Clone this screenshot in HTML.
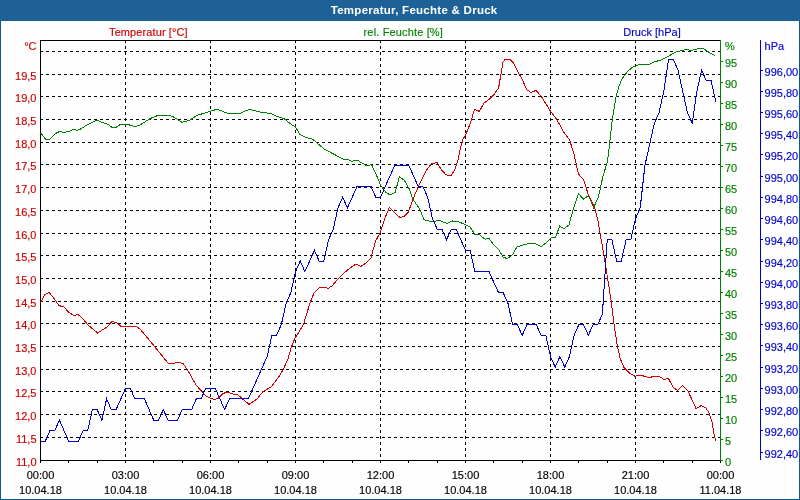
<!DOCTYPE html>
<html lang="de"><head><meta charset="utf-8"><title>Temperatur, Feuchte &amp; Druck</title>
<style>html,body{margin:0;padding:0;background:#fdfefd;overflow:hidden}svg{display:block}text{font-family:"Liberation Sans",sans-serif;font-size:11px;stroke-width:.15px;paint-order:stroke}</style></head><body>
<svg width="800" height="500" viewBox="0 0 800 500">
<rect x="0" y="0" width="800" height="500" fill="#fdfefd"/>
<rect x="0" y="0" width="800" height="21" fill="#1e6197"/>
<g shape-rendering="crispEdges" fill="none">
<path d="M0.5 21V499.5H799.5V21" stroke="#0c5996"/>
<path d="M40 437.5H720M40 414.5H720M40 391.5H720M40 369.5H720M40 346.5H720M40 323.5H720M40 301.5H720M40 278.5H720M40 255.5H720M40 233.5H720M40 210.5H720M40 187.5H720M40 164.5H720M40 142.5H720M40 119.5H720M40 96.5H720M40 74.5H720M40 51.5H720M125.5 40V460M210.5 40V460M295.5 40V460M380.5 40V460M465.5 40V460M550.5 40V460M635.5 40V460" stroke="#000" stroke-dasharray="3 3"/>
<path d="M40 40.5H721M40.5 40V461M40 460.5H721" stroke="#000"/>
<path d="M40.5 460V463M68.5 460V463M97.5 460V463M125.5 460V463M153.5 460V463M182.5 460V463M210.5 460V463M238.5 460V463M267.5 460V463M295.5 460V463M323.5 460V463M352.5 460V463M380.5 460V463M408.5 460V463M437.5 460V463M465.5 460V463M493.5 460V463M522.5 460V463M550.5 460V463M578.5 460V463M607.5 460V463M635.5 460V463M663.5 460V463M692.5 460V463M720.5 460V463" stroke="#000"/>
<path d="M720.5 40V461M721 460.5H723M721 439.5H723M721 418.5H723M721 397.5H723M721 376.5H723M721 355.5H723M721 334.5H723M721 313.5H723M721 292.5H723M721 271.5H723M721 250.5H723M721 229.5H723M721 208.5H723M721 187.5H723M721 166.5H723M721 145.5H723M721 124.5H723M721 103.5H723M721 82.5H723M721 61.5H723" stroke="#008000"/>
<path d="M760.5 40V460M761 452.5H763M761 430.5H763M761 409.5H763M761 388.5H763M761 367.5H763M761 345.5H763M761 324.5H763M761 303.5H763M761 282.5H763M761 261.5H763M761 239.5H763M761 218.5H763M761 197.5H763M761 176.5H763M761 154.5H763M761 133.5H763M761 112.5H763M761 91.5H763M761 70.5H763" stroke="#0000cc"/>
<polyline points="40.5,133.0 41.2,133.5 45.6,139.4 49.4,139.4 55.6,133.5 60.0,131.2 63.7,132.5 69.4,131.2 73.1,129.4 77.5,130.4 80.6,129.0 85.0,126.2 96.9,120.0 101.2,122.2 106.9,123.7 111.9,127.2 116.2,127.2 120.6,124.4 127.5,124.4 135.0,126.6 140.0,125.0 150.0,118.6 158.0,115.4 169.0,115.4 173.0,116.6 182.0,122.4 190.0,120.0 197.0,115.4 210.0,111.4 217.0,109.2 228.0,113.4 240.0,113.4 249.0,109.4 260.0,112.0 271.0,113.6 280.0,117.6 284.0,118.6 292.0,125.0 295.6,127.0 300.0,134.4 305.0,137.0 313.0,139.4 324.0,149.0 343.0,159.0 348.0,159.4 352.0,161.4 357.0,160.0 367.0,166.0 371.6,164.6 376.0,174.0 381.0,186.0 386.0,192.4 390.0,195.0 395.0,192.6 399.4,177.0 404.2,180.0 409.0,188.5 413.0,199.5 419.5,208.5 424.0,219.8 433.0,222.0 438.5,220.2 447.0,223.4 452.5,221.0 458.0,221.6 465.0,224.4 470.0,227.0 475.0,234.4 479.0,234.4 485.0,239.2 489.0,238.5 494.0,245.0 499.0,250.0 503.0,257.0 507.0,258.6 512.0,255.4 517.0,247.0 523.0,245.0 531.0,243.2 536.0,244.0 541.0,246.6 546.0,243.0 551.0,238.0 555.6,237.6 559.6,226.0 564.0,228.6 569.0,224.8 573.0,210.0 578.4,193.6 583.6,199.0 588.6,195.6 593.6,207.5 598.4,197.0 603.0,176.0 607.6,161.0 612.4,119.0 616.0,97.0 619.0,86.0 622.0,79.0 627.0,72.0 632.0,67.6 639.0,64.6 649.0,64.4 655.0,61.4 660.0,60.6 668.0,56.4 676.0,52.0 686.0,49.4 691.0,50.4 696.0,49.4 701.0,48.0 704.0,49.0 709.0,52.4 715.0,55.6" stroke="#008000"/>
<polyline points="40.5,303.0 45.0,294.4 49.0,292.4 54.0,298.4 59.0,305.6 64.0,307.0 69.0,312.6 74.0,315.4 78.0,314.4 83.0,319.0 88.0,325.0 97.6,333.0 107.0,327.0 112.0,321.4 117.0,323.0 121.0,326.4 136.0,326.4 140.0,329.0 150.0,341.0 168.0,363.0 172.0,364.0 178.0,362.0 183.0,363.6 187.0,369.0 196.0,385.0 206.0,396.0 211.0,398.4 215.0,399.4 218.0,398.4 223.0,393.6 227.0,392.0 233.0,394.0 238.0,395.0 249.0,404.4 257.0,399.0 263.0,391.6 271.0,387.0 278.0,378.0 283.0,370.0 288.0,359.0 291.0,348.0 295.0,338.0 299.0,332.0 303.6,324.0 310.0,303.0 314.0,293.0 319.0,288.0 323.0,287.0 328.0,288.4 332.0,286.0 338.0,279.0 344.0,273.0 350.0,268.0 356.0,264.0 361.0,266.4 366.0,263.0 371.0,258.0 372.0,254.0 375.6,241.0 380.0,233.0 385.0,218.0 389.4,207.4 395.0,213.0 400.0,217.6 404.0,216.4 408.4,212.0 413.0,199.0 418.4,186.4 426.0,171.0 431.0,164.0 437.0,162.4 441.0,169.2 446.0,174.8 451.0,176.0 455.5,168.0 458.0,160.0 460.0,150.0 463.0,139.4 466.0,134.0 470.0,124.0 474.6,109.4 479.4,111.4 484.0,103.0 489.0,99.4 494.0,94.4 498.6,88.0 500.6,76.0 503.0,62.0 505.0,59.6 510.0,59.6 513.0,62.4 517.0,70.0 522.0,79.0 527.0,90.0 531.0,92.4 536.0,90.4 541.0,96.0 546.0,104.0 551.0,112.0 556.0,118.4 560.0,125.0 564.0,132.5 569.6,140.0 574.0,154.0 578.4,174.0 583.6,179.6 588.6,195.6 591.0,200.0 595.0,209.0 598.0,221.0 600.0,233.0 603.0,250.0 606.0,268.0 608.5,284.0 611.0,300.0 614.0,324.0 617.0,344.0 620.0,358.0 624.0,367.5 629.0,372.6 635.0,376.4 640.0,375.0 649.0,377.6 654.0,376.4 659.0,376.4 664.0,379.4 668.4,378.4 673.0,387.0 677.6,390.6 682.6,385.4 688.0,391.0 696.0,408.4 701.4,405.6 706.0,408.0 709.0,413.0 712.0,422.0 714.0,434.0 715.6,440.6" stroke="#cc0000"/>
<polyline points="40.5,441.4 45.2,441.4 49.9,430.8 54.7,430.8 59.4,420.2 64.1,430.8 68.8,441.4 73.6,441.4 78.3,441.4 83.0,430.8 87.7,430.8 92.4,409.6 97.2,409.6 101.9,420.2 106.6,398.9 111.3,409.6 116.1,409.6 120.8,398.9 125.5,388.3 130.2,388.3 134.9,398.9 139.7,398.9 144.4,398.9 149.1,409.6 153.8,420.2 158.6,420.2 163.3,409.6 168.0,420.2 172.7,420.2 177.4,420.2 182.2,409.6 186.9,409.6 191.6,409.6 196.3,398.9 201.1,398.9 205.8,388.3 210.5,388.3 215.2,388.3 219.9,398.9 224.7,409.6 229.4,398.9 234.1,398.9 238.8,398.9 243.6,398.9 248.3,398.9 253.0,388.3 257.7,377.7 262.4,367.1 267.2,356.5 271.9,335.3 276.6,335.3 281.3,324.7 286.1,303.4 290.8,292.8 295.5,271.6 300.2,261.0 304.9,271.6 309.7,261.0 314.4,250.4 319.1,261.0 323.8,261.0 328.6,239.8 333.3,229.2 338.0,207.9 342.7,197.3 347.4,207.9 352.2,197.3 356.9,186.7 361.6,186.7 366.3,186.7 371.1,186.7 375.8,197.3 380.5,197.3 385.2,186.7 389.9,176.1 394.7,165.5 399.4,165.5 404.1,165.5 408.8,165.5 413.6,176.1 418.3,186.7 423.0,186.7 427.7,197.3 432.4,218.6 437.2,229.2 441.9,229.2 446.6,239.8 451.3,229.2 456.1,229.2 460.8,239.8 465.5,250.4 470.2,250.4 474.9,271.6 479.7,271.6 484.4,271.6 489.1,271.6 493.8,282.2 498.6,292.8 503.3,292.8 508.0,303.4 512.7,324.7 517.4,324.7 522.2,335.3 526.9,324.7 531.6,324.7 536.3,324.7 541.1,335.3 545.8,335.3 550.5,356.5 555.2,367.1 559.9,356.5 564.7,367.1 569.4,356.5 574.1,335.3 578.8,324.7 583.6,324.7 588.3,335.3 593.0,324.7 597.7,324.7 602.4,314.1 607.2,239.8 611.9,239.8 616.6,261.0 621.3,261.0 626.1,239.8 630.8,239.8 635.5,218.6 640.2,207.9 644.9,165.5 649.7,144.3 654.4,123.1 659.1,112.4 663.8,91.2 668.6,59.4 673.3,59.4 678.0,70.0 682.7,91.2 687.4,112.4 692.2,123.1 696.9,91.2 701.6,70.0 706.3,80.6 711.1,80.6 715.8,101.8" stroke="#0000cc"/>
</g>
<text x="414" y="14" text-anchor="middle" fill="#fff" font-weight="bold" textLength="166.5" lengthAdjust="spacing" style="font-size:11.5px">Temperatur, Feuchte &amp; Druck</text>
<text x="148.3" y="36" text-anchor="middle" fill="#cc0000" stroke="#cc0000" textLength="78.5" lengthAdjust="spacing">Temperatur [°C]</text>
<text x="403.2" y="36" text-anchor="middle" fill="#008000" stroke="#008000" textLength="79.3" lengthAdjust="spacing">rel. Feuchte [%]</text>
<text x="652" y="36" text-anchor="middle" fill="#0000cc" stroke="#0000cc">Druck [hPa]</text>
<g fill="#cc0000" stroke="#cc0000" text-anchor="end">
<text x="36.5" y="50">°C</text>
<text x="36.5" y="466">11,0</text>
<text x="36.5" y="443">11,5</text>
<text x="36.5" y="420">12,0</text>
<text x="36.5" y="397">12,5</text>
<text x="36.5" y="375">13,0</text>
<text x="36.5" y="352">13,5</text>
<text x="36.5" y="329">14,0</text>
<text x="36.5" y="307">14,5</text>
<text x="36.5" y="284">15,0</text>
<text x="36.5" y="261">15,5</text>
<text x="36.5" y="239">16,0</text>
<text x="36.5" y="216">16,5</text>
<text x="36.5" y="193">17,0</text>
<text x="36.5" y="170">17,5</text>
<text x="36.5" y="148">18,0</text>
<text x="36.5" y="125">18,5</text>
<text x="36.5" y="102">19,0</text>
<text x="36.5" y="80">19,5</text>
</g>
<g fill="#008000" stroke="#008000">
<text x="725" y="50">%</text>
<text x="725" y="466">0</text>
<text x="725" y="445">5</text>
<text x="725" y="424">10</text>
<text x="725" y="403">15</text>
<text x="725" y="382">20</text>
<text x="725" y="361">25</text>
<text x="725" y="340">30</text>
<text x="725" y="319">35</text>
<text x="725" y="298">40</text>
<text x="725" y="277">45</text>
<text x="725" y="256">50</text>
<text x="725" y="235">55</text>
<text x="725" y="214">60</text>
<text x="725" y="193">65</text>
<text x="725" y="172">70</text>
<text x="725" y="151">75</text>
<text x="725" y="130">80</text>
<text x="725" y="109">85</text>
<text x="725" y="88">90</text>
<text x="725" y="67">95</text>
</g>
<g fill="#0000cc" stroke="#0000cc">
<text x="764.6" y="50">hPa</text>
<text x="764.6" y="458">992,40</text>
<text x="764.6" y="436">992,60</text>
<text x="764.6" y="415">992,80</text>
<text x="764.6" y="394">993,00</text>
<text x="764.6" y="373">993,20</text>
<text x="764.6" y="351">993,40</text>
<text x="764.6" y="330">993,60</text>
<text x="764.6" y="309">993,80</text>
<text x="764.6" y="288">994,00</text>
<text x="764.6" y="267">994,20</text>
<text x="764.6" y="245">994,40</text>
<text x="764.6" y="224">994,60</text>
<text x="764.6" y="203">994,80</text>
<text x="764.6" y="182">995,00</text>
<text x="764.6" y="160">995,20</text>
<text x="764.6" y="139">995,40</text>
<text x="764.6" y="118">995,60</text>
<text x="764.6" y="97">995,80</text>
<text x="764.6" y="76">996,00</text>
</g>
<g fill="#000" stroke="#000" text-anchor="middle">
<text x="40.5" y="479">00:00</text>
<text x="40.5" y="494">10.04.18</text>
<text x="125.5" y="479">03:00</text>
<text x="125.5" y="494">10.04.18</text>
<text x="210.5" y="479">06:00</text>
<text x="210.5" y="494">10.04.18</text>
<text x="295.5" y="479">09:00</text>
<text x="295.5" y="494">10.04.18</text>
<text x="380.5" y="479">12:00</text>
<text x="380.5" y="494">10.04.18</text>
<text x="465.5" y="479">15:00</text>
<text x="465.5" y="494">10.04.18</text>
<text x="550.5" y="479">18:00</text>
<text x="550.5" y="494">10.04.18</text>
<text x="635.5" y="479">21:00</text>
<text x="635.5" y="494">10.04.18</text>
<text x="720.5" y="479">00:00</text>
<text x="720.5" y="494">11.04.18</text>
</g>
</svg></body></html>
